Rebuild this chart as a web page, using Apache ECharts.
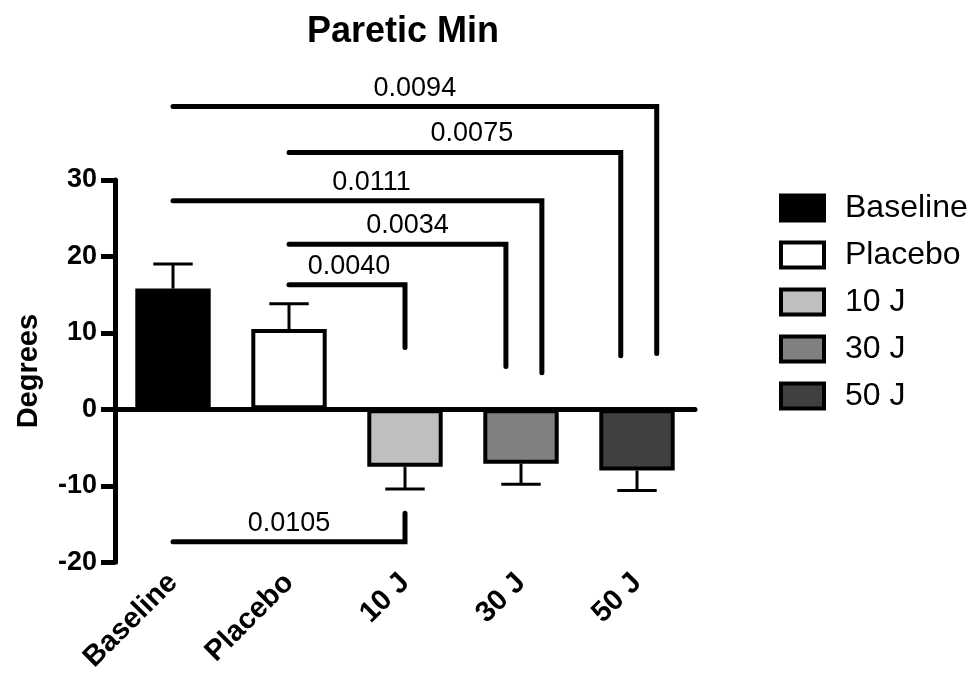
<!DOCTYPE html>
<html>
<head>
<meta charset="utf-8">
<script src="https://cdn.jsdelivr.net/npm/echarts@6/dist/echarts.min.js"></script>
<style>
html,body{margin:0;padding:0;background:#fff;}
#chart{width:971px;height:675px;}
</style>
</head>
<body>
<div id="chart"></div>
<script>
// ---- data ----
const categories = ['Baseline', 'Placebo', '10 J', '30 J', '50 J'];
const means = [15.8, 10.5, -7.5, -7.1, -8.0];
const errors = [3.2, 3.3, 2.9, 2.7, 2.6];
const yTicks = [-20, -10, 0, 10, 20, 30];

const pLabels = ['0.0094', '0.0075', '0.0111', '0.0034', '0.0040', '0.0105'];
const pFrom = [0, 1, 0, 1, 1, 0];
const pTo = [4, 4, 3, 3, 2, 2];
const pLevel = [39.6, 33.6, 27.3, 21.6, 16.3, -17.3];
const pEnd = [7.3, 7.0, 4.8, 5.6, 8.1, -13.6];

// ---- styles ----
const colors = ['#000000', '#ffffff', '#bfbfbf', '#808080', '#404040'];
const bracketShift = [0.17, -0.14, 0.18, -0.13, 0, 0];
const labelShiftPx = [0, 17, 14, 10, 2, 0];
const FONT = '"Liberation Sans", Arial, Helvetica, sans-serif';

const chart = echarts.init(document.getElementById('chart'));

const barSeries = categories.map((name, i) => ({
  name: name,
  type: 'bar',
  barWidth: '65%',
  barGap: '-100%',
  z: 3,
  itemStyle: { color: colors[i], borderColor: '#000', borderWidth: 4 },
  data: categories.map((c, j) => (j === i ? means[i] : null))
}));

const errSeries = {
  type: 'custom',
  z: 2,
  silent: true,
  encode: { x: 0, y: 1 },
  data: categories.map((c, i) => [i, means[i], errors[i]]),
  renderItem: function (params, api) {
    const i = api.value(0), m = api.value(1), e = api.value(2);
    const sign = m >= 0 ? 1 : -1;
    const base = api.coord([i, m]);
    const tip = api.coord([i, m + sign * e]);
    const half = api.size([1, 0])[0] * 0.17;
    const st = { stroke: '#000', lineWidth: 3 };
    return {
      type: 'group',
      children: [
        { type: 'line', shape: { x1: base[0], y1: base[1], x2: tip[0], y2: tip[1] }, style: st },
        { type: 'line', shape: { x1: tip[0] - half, y1: tip[1], x2: tip[0] + half, y2: tip[1] }, style: st }
      ]
    };
  }
};

const bracketSeries = {
  type: 'custom',
  z: 5,
  silent: true,
  clip: false,
  encode: { x: 0, y: 2 },
  data: pLabels.map((l, i) => [pFrom[i], pTo[i], pLevel[i], pEnd[i], i]),
  renderItem: function (params, api) {
    const k = api.value(4);
    const band = api.size([1, 0])[0];
    const p0 = api.coord([api.value(0), api.value(2)]);
    const x1 = api.coord([api.value(1), api.value(2)])[0] + band * bracketShift[k];
    const yEnd = api.coord([api.value(1), api.value(3)])[1];
    return {
      type: 'group',
      children: [
        {
          type: 'polyline',
          shape: { points: [[p0[0], p0[1]], [x1, p0[1]], [x1, yEnd]] },
          style: { stroke: '#000', lineWidth: 5, fill: null, lineCap: 'round', lineJoin: 'miter' }
        },
        {
          type: 'text',
          style: {
            text: pLabels[k], x: (p0[0] + x1) / 2 + labelShiftPx[k], y: p0[1] - 5,
            fill: '#000', font: '27px ' + FONT, align: 'center', verticalAlign: 'bottom'
          }
        }
      ]
    };
  }
};

chart.setOption({
  animation: false,
  backgroundColor: '#fff',
  title: {
    text: 'Paretic Min',
    left: 403,
    textAlign: 'center',
    top: 14,
    padding: 0,
    textStyle: { fontFamily: FONT, fontWeight: 'bold', fontSize: 36, color: '#000' }
  },
  legend: {
    orient: 'vertical',
    left: 779,
    top: 192,
    padding: 0,
    icon: 'rect',
    itemWidth: 43,
    itemHeight: 25,
    itemGap: 15,
    selectedMode: false,
    itemStyle: { borderColor: '#000', borderWidth: 4 },
    textStyle: { fontFamily: FONT, fontSize: 32, color: '#000', lineHeight: 32, padding: [0, 0, 0, 16] },
    data: categories
  },
  grid: { left: 115, right: 276, top: 180, bottom: 107, containLabel: false },
  xAxis: [
    {
      type: 'category',
      data: categories,
      position: 'bottom',
      axisLine: { show: false, onZero: false },
      axisTick: { show: false },
      axisLabel: {
        rotate: 45, margin: 16, interval: 0,
        fontFamily: FONT, fontWeight: 'bold', fontSize: 29, color: '#000'
      }
    },
    {
      type: 'category',
      data: categories,
      position: 'bottom',
      axisLine: { show: true, onZero: true, lineStyle: { color: '#000', width: 5 } },
      axisTick: { show: false },
      axisLabel: { show: false }
    }
  ],
  yAxis: {
    type: 'value',
    min: yTicks[0],
    max: yTicks[yTicks.length - 1],
    interval: 10,
    name: 'Degrees',
    nameLocation: 'middle',
    nameGap: 72,
    nameTextStyle: { fontFamily: FONT, fontWeight: 'bold', fontSize: 29, color: '#000' },
    axisLine: { show: true, lineStyle: { color: '#000', width: 5 } },
    axisTick: { show: true, length: 14, lineStyle: { color: '#000', width: 5 } },
    axisLabel: { margin: 18, fontFamily: FONT, fontWeight: 'bold', fontSize: 27, color: '#000' },
    splitLine: { show: false }
  },
  series: [errSeries].concat(barSeries, [bracketSeries])
});
</script>
</body>
</html>
